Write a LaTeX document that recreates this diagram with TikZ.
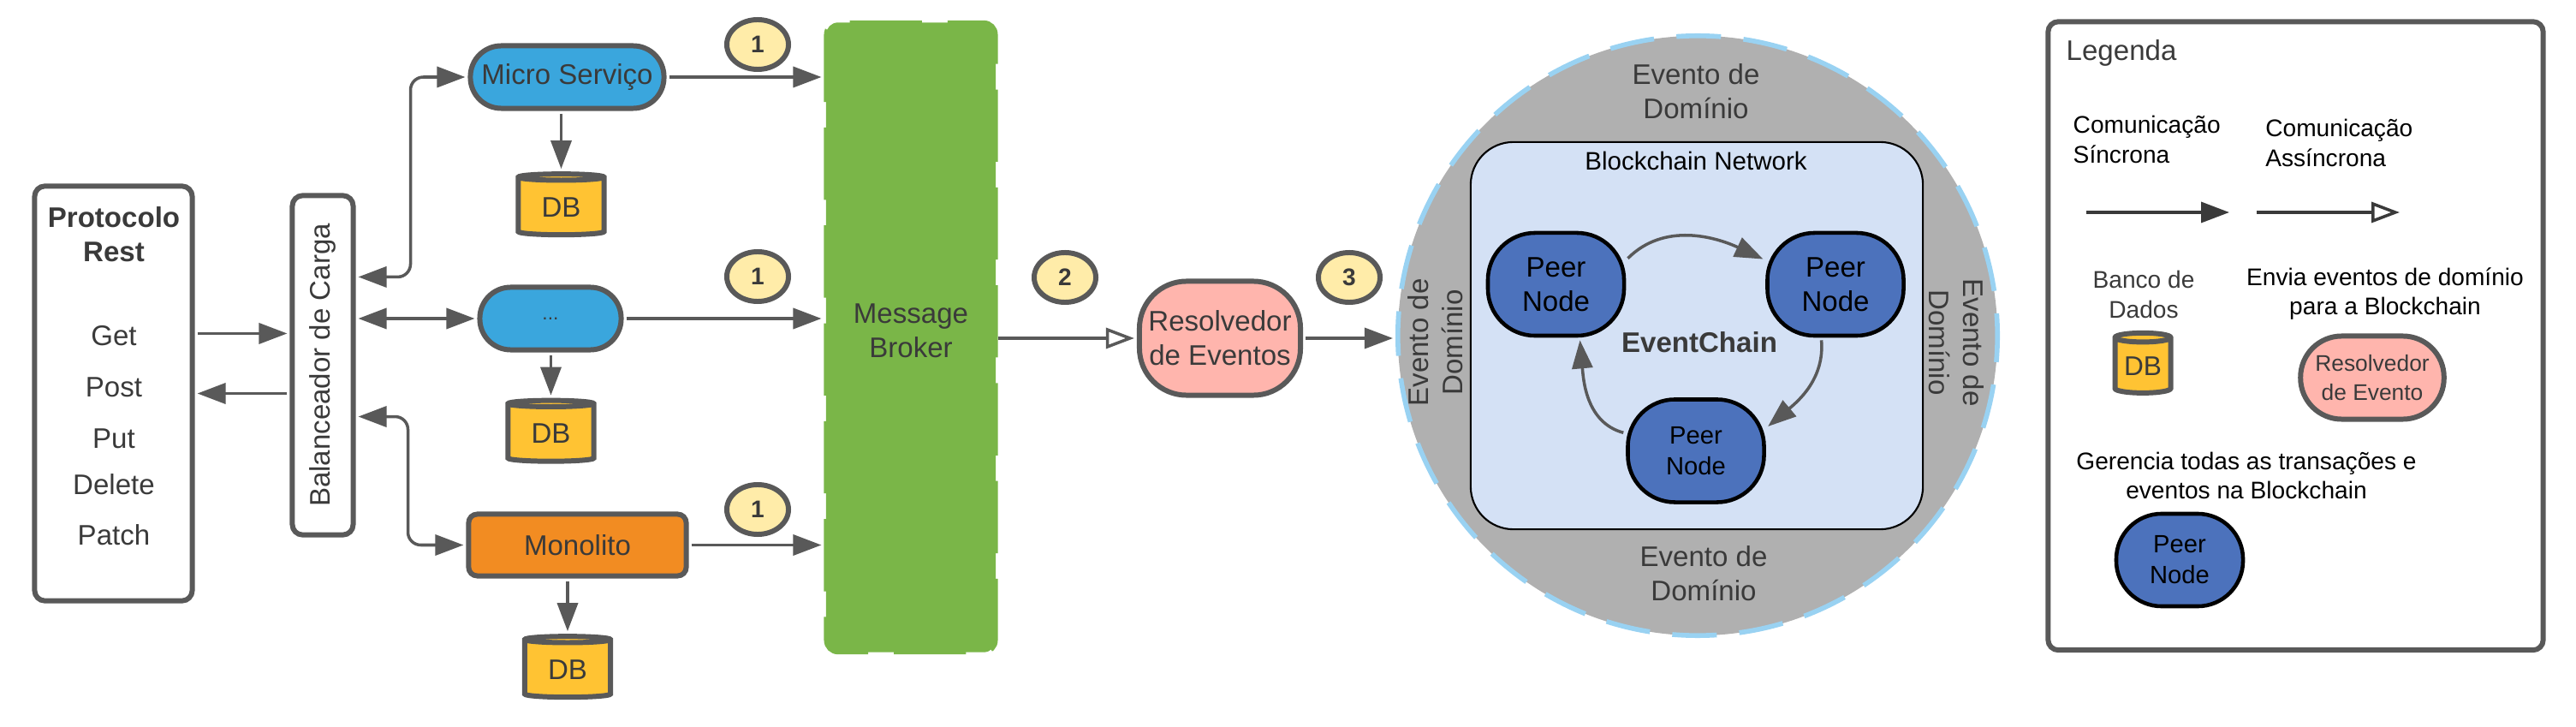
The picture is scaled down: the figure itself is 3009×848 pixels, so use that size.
\documentclass[tikz,border=0pt]{standalone}
\usepackage{fontspec}
\setmainfont{Liberation Sans}
\usetikzlibrary{arrows.meta}
\usetikzlibrary{shapes.geometric}
\definecolor{custom-line}{HTML}{595959}
\definecolor{custom-text}{HTML}{3A3A3A}
\definecolor{custom-blue}{HTML}{3AA6DD}
\definecolor{custom-orange}{HTML}{F28C22}
\definecolor{custom-green}{HTML}{7AB648}
\definecolor{custom-yellow}{HTML}{FFECA9}
\definecolor{custom-red}{HTML}{FFB5AD}
\definecolor{custom-db}{HTML}{FFC333}
\definecolor{custom-peer}{HTML}{4C72BC}
\definecolor{custom-net}{HTML}{D4E1F5}
\definecolor{custom-gray}{HTML}{B0B0B0}
\definecolor{custom-dash}{HTML}{99D2F2}
\newcommand{\fontbig}{\fontsize{9.4}{11.4}\selectfont}
\newcommand{\fontmid}{\fontsize{8.3}{10.2}\selectfont}
\newcommand{\fontsmall}{\fontsize{8}{9.7}\selectfont}
\tikzset{
  boxnode/.style={draw=custom-line, line width=1.7pt, inner sep=0pt, align=center, text=custom-text, font=\fontbig},
  textnode/.style={inner sep=0pt, align=center, text=custom-text, font=\fontbig},
  smalltext/.style={inner sep=0pt, align=center, text=black, font=\fontsmall},
  dbnode/.style={boxnode, shape=cylinder, shape border rotate=90, aspect=.16, fill=custom-db, minimum width=1cm, minimum height=.71cm},
  badgenode/.style={boxnode, shape=ellipse, fill=custom-yellow, minimum width=.72cm, minimum height=.58cm, font=\fontsize{8}{9}\selectfont\bfseries},
  peernode/.style={draw=black, line width=1.3pt, fill=custom-peer, rounded corners=.55cm, inner sep=0pt, align=center, text=black, font=\fontbig, minimum width=1.59cm, minimum height=1.2cm},
  resnode/.style={boxnode, fill=custom-red},
  tipsync/.tip={Triangle[length=.33cm, width=.24cm]},
  tipasync/.tip={Triangle[open, fill=white, length=.33cm, width=.24cm]},
  syncarrow/.style={draw=custom-line, line width=1pt, -tipsync, shorten >=.03cm, shorten <=.03cm},
  botharrow/.style={syncarrow, tipsync-tipsync, rounded corners=.15cm},
  asyncarrow/.style={draw=custom-line, line width=1pt, -tipasync, shorten >=.03cm},
}
\begin{document}
\begin{tikzpicture}[x=0.01cm, y=0.01cm]
\useasboundingbox (0,0) rectangle (3009,848);

\node[boxnode, rounded corners=.12cm, minimum width=1.84cm, minimum height=4.84cm] (prot) at (132.5,388.5) {};
\node[textnode, font=\fontbig\bfseries] (prottitle) at (133,574) {Protocolo\\Rest};
\node[textnode] (get) at (133,456) {Get};
\node[textnode] (post) at (133,396) {Post};
\node[textnode] (put) at (133,336) {Put};
\node[textnode] (delete) at (133,282) {Delete};
\node[textnode] (patch) at (133,223) {Patch};

\node[boxnode, rounded corners=.12cm, minimum width=.71cm, minimum height=3.96cm] (bal) at (377,421.5) {\rotatebox{90}{Balanceador de Carga}};

\node[boxnode, fill=custom-blue, rounded corners=.36cm, minimum width=2.26cm, minimum height=.73cm] (micro) at (662.5,758) {Micro Serviço};
\node[boxnode, fill=custom-blue, rounded corners=.36cm, minimum width=1.65cm, minimum height=.73cm, font=\fontsize{6.5}{8}\selectfont] (dots) at (643,476) {...};
\node[boxnode, fill=custom-orange, rounded corners=.1cm, minimum width=2.54cm, minimum height=.72cm] (mono) at (674.5,211.5) {Monolito};

\node[dbnode] (dba) at (655.5,606) {DB};
\node[dbnode] (dbb) at (643.5,341.5) {DB};
\node[dbnode] (dbc) at (663,66) {DB};

\node[badgenode] (onea) at (885,796) {1};
\node[badgenode] (oneb) at (885,525) {1};
\node[badgenode] (onec) at (885,253) {1};
\node[badgenode] (two) at (1244,524) {2};
\node[badgenode] (three) at (1576,524) {3};

\node[draw=custom-green, fill=custom-green, line width=1.4pt, dash pattern=on 24pt off 8.5pt, dash phase=12pt, rounded corners=.14cm, inner sep=0pt, minimum width=1.98cm, minimum height=7.35cm] (broker) at (1064,454) {};
\node[textnode] (brokertext) at (1064,461.5) {Message\\Broker};

\node[resnode, rounded corners=.55cm, minimum width=1.88cm, minimum height=1.33cm] (res) at (1425,453) {Resolvedor\\de Eventos};

\node[circle, draw=custom-dash, fill=custom-gray, line width=1.6pt, dash pattern=on 14.8pt off 7.5pt, dash phase=7.4pt, inner sep=0pt, minimum size=7cm] (domain) at (1983,456) {};
\node[draw=black, fill=custom-net, line width=.6pt, rounded corners=.5cm, inner sep=0pt, minimum width=5.28cm, minimum height=4.52cm] (net) at (1982,456) {};
\node[smalltext, font=\fontsize{8.4}{10}\selectfont] (nettitle) at (1981,660) {Blockchain Network};
\node[textnode, font=\fontbig\bfseries] (chain) at (1985,448) {EventChain};
\node[textnode] (evtop) at (1981,741) {Evento de\\Domínio};
\node[textnode] (evbottom) at (1990,178.5) {Evento de\\Domínio};
\node[textnode, rotate=90] (evleft) at (1677,448) {Evento de\\Domínio};
\node[textnode, rotate=-90] (evright) at (2285,448) {Evento de\\Domínio};

\node[peernode] (peera) at (1817.5,516) {Peer\\Node};
\node[peernode] (peerb) at (2144,516) {Peer\\Node};
\node[peernode, font=\fontmid] (peerc) at (1981,321.5) {Peer\\Node};

\draw[syncarrow] ([yshift=.7cm]prot.east) -- ([yshift=.7cm]prot.east -| bal.west);
\draw[syncarrow] (bal.west |- prot.east) -- (prot.east);
\draw[botharrow] ([yshift=1.03cm]bal.east) -- ++(64,0) |- (micro.west);
\draw[botharrow] (bal.east |- dots.west) -- (dots.west);
\draw[botharrow] ([yshift=-.6cm]bal.east) -- ++(61,0) |- (mono.west);
\draw[syncarrow] (micro.east) -- (micro.east -| broker.west);
\draw[syncarrow] (dots.east) -- (dots.east -| broker.west);
\draw[syncarrow] (mono.east) -- (mono.east -| broker.west);
\draw[syncarrow] (dba.north |- micro.south) -- (dba.north);
\draw[syncarrow] (dbb.north |- dots.south) -- (dbb.north);
\draw[syncarrow] (dbc.north |- mono.south) -- (dbc.north);
\draw[asyncarrow] (broker.east |- res.west) -- (res.west);
\draw[syncarrow] (res.east) -- (res.east -| domain.west);
\draw[syncarrow] (peera.19) to[out=45, in=155] (peerb.161);
\draw[syncarrow] (peerb.255) to[out=-85, in=40] (peerc.18);
\draw[syncarrow] (peerc.166) to[out=165, in=-85] (peera.-66);

\node[boxnode, rounded corners=.12cm, minimum width=5.78cm, minimum height=7.335cm] (legend) at (2681.5,455.75) {};
\node[textnode, anchor=west] (legtitle) at (2413,786) {Legenda};
\node[smalltext, anchor=west, align=left] (legsync) at (2421,685) {Comunicação\\Síncrona};
\node[smalltext, anchor=west, align=left] (legasync) at (2645.6,681) {Comunicação\\Assíncrona};
\coordinate (syncstart) at (2437,600);
\coordinate (syncend) at (2604,600);
\coordinate (asyncstart) at (2636,600);
\coordinate (asyncend) at (2803,600);
\draw[syncarrow, draw=custom-text, shorten >=0pt, shorten <=0pt] (syncstart) -- (syncend);
\draw[asyncarrow, draw=custom-text, shorten >=0pt] (asyncstart) -- (asyncend);
\node[smalltext, text=custom-text] (legbanco) at (2504,504) {Banco de\\Dados};
\node[dbnode, minimum width=.65cm, minimum height=.7cm, aspect=.24, font=\fontsize{9}{11}\selectfont] (legdb) at (2503,420) {DB};
\node[smalltext] (legenvia) at (2786,504.5) {Envia eventos de domínio\\para a Blockchain};
\node[resnode, rounded corners=.48cm, minimum width=1.675cm, minimum height=.97cm, font=\fontsize{7.5}{9.8}\selectfont] (legres) at (2771,407) {Resolvedor\\de Evento};
\node[smalltext] (leggerencia) at (2624,293) {Gerencia todas as transações e\\eventos na Blockchain};
\node[peernode, font=\fontmid, rounded corners=.53cm, minimum width=1.48cm, minimum height=1.08cm] (legpeer) at (2546,194) {Peer\\Node};
\end{tikzpicture}
\end{document}
